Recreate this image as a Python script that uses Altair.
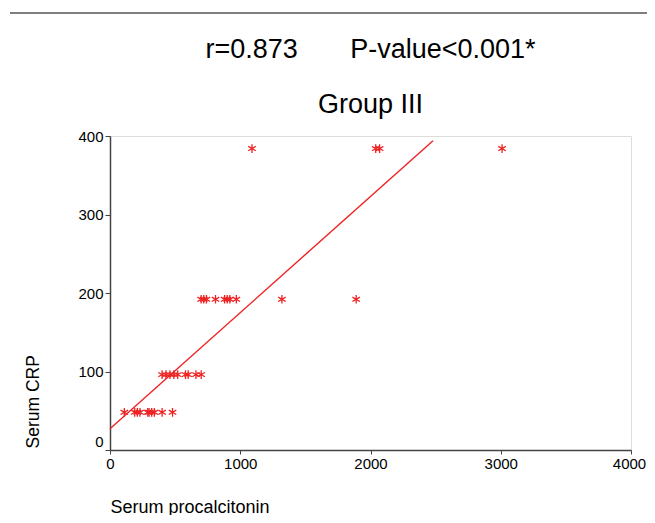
import altair as alt
import pandas as pd

# Data
procalcitonin = [1090, 2040, 2070, 3010,
                 700, 720, 740, 810, 880, 900, 920, 970, 1320, 1890,
                 400, 430, 460, 490, 520, 580, 600, 660, 700,
                 110, 190, 210, 230, 290, 300, 320, 340, 400, 480]
crp = [384] * 4 + [192] * 10 + [96] * 9 + [48] * 10

fit_x = [0, 2480]
fit_y = [27, 394]

x_ticks = [0, 1000, 2000, 3000, 4000]
y_ticks = [0, 100, 200, 300, 400]

RED = "#ee2222"
FONT = "Liberation Sans"
AX = "#444444"

pts = pd.DataFrame({"pct": procalcitonin, "crp": crp})
fit = pd.DataFrame({"pct": fit_x, "crp": fit_y})

xscale = alt.Scale(domain=[0, 4000], nice=False)
yscale = alt.Scale(domain=[0, 400], nice=False)

xaxis = alt.Axis(values=x_ticks, grid=False, title="Serum procalcitonin", format="d",
                 titleX=0, titleY=57, titleAlign="left", titleBaseline="middle",
                 titleFontSize=18, titleFontWeight="normal", titleFont=FONT,
                 labelFont=FONT, labelFontSize=15, labelColor="black",
                 labelOffset={"condition": {"test": "datum.value == 4000", "value": -2}, "value": 0},
                 domainColor=AX, domainWidth=1.5, tickColor=AX, tickSize=4,
                 labelPadding=2, labelFlush=False)
yaxis = alt.Axis(values=y_ticks, grid=False, title="Serum CRP", format="d",
                 titleX=-77, titleY=312, titleAngle=270, titleAlign="left",
                 titleBaseline="middle",
                 titleFontSize=17.5, titleFontWeight="normal", titleFont=FONT,
                 labelFont=FONT, labelFontSize=15, labelColor="black",
                 labelOffset={"condition": {"test": "datum.value == 0", "value": -9}, "value": 0},
                 domainColor=AX, domainWidth=1.5, tickColor=AX, tickSize=5,
                 labelPadding=2, labelFlush=False)

asterisk = "M0,-1L0,1M-0.87,-0.5L0.87,0.5M-0.87,0.5L0.87,-0.5"

points = alt.Chart(pts).mark_point(shape=asterisk, filled=False, color=RED,
                                   strokeWidth=1.3, size=75, opacity=1).encode(
    x=alt.X("pct:Q", scale=xscale, axis=xaxis),
    y=alt.Y("crp:Q", scale=yscale, axis=yaxis),
)

line = alt.Chart(fit).mark_line(color=RED, strokeWidth=1.4).encode(
    x=alt.X("pct:Q", scale=xscale),
    y=alt.Y("crp:Q", scale=yscale),
)

topline = alt.Chart(pd.DataFrame({"a": [0]})).mark_rule(color="#555555", strokeWidth=1.5).encode(
    x=alt.value(-100), x2=alt.value(545), y=alt.value(-123)
)

nb = "\u00a0" * 7
chart = alt.layer(topline, line, points).properties(
    width=521, height=314,
    title=alt.TitleParams(text=["r=0.873" + nb + "P-value<0.001*", "Group III"],
                          font=FONT, fontSize=27, fontWeight="normal", color="black",
                          lineHeight=55, anchor="middle", offset=-107, baseline="top"),
    autosize=alt.AutoSizeParams(type="none"),
    padding={"left": 102, "top": 128, "right": 16, "bottom": 65},
).configure_view(stroke=AX, strokeWidth=1.5).configure(background="white")

chart.save("out.html", embed_options={"renderer": "svg", "actions": False})
